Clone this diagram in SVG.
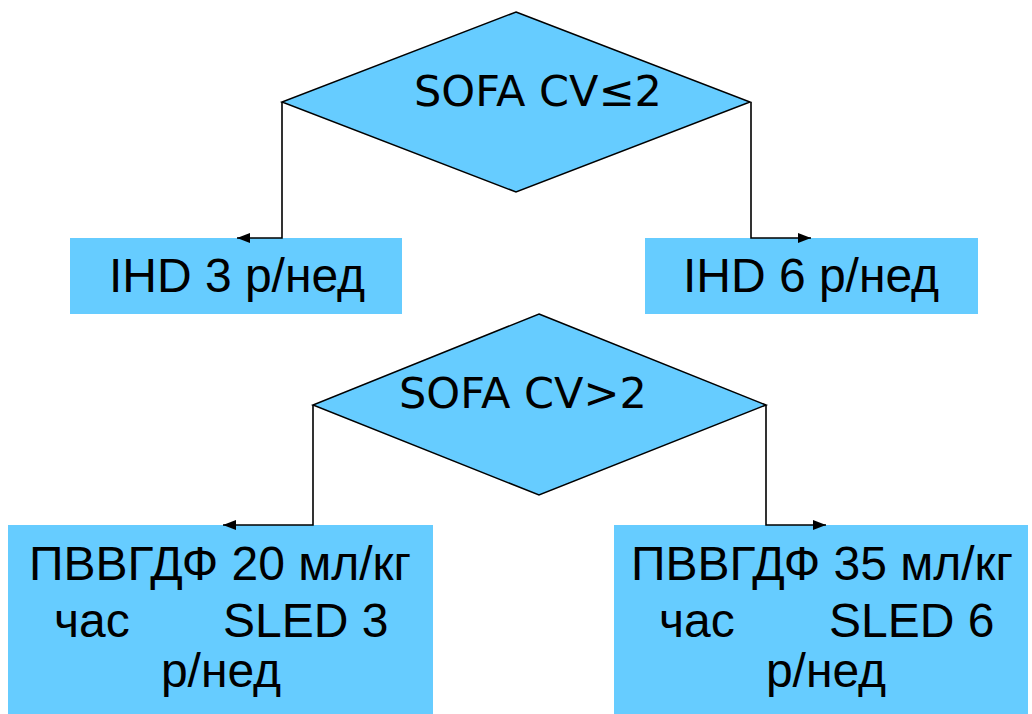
<svg xmlns="http://www.w3.org/2000/svg" width="1032" height="714" viewBox="0 0 1032 714">
  <defs>
    <style>
      .dec { fill: #66CCFF; stroke: #000; stroke-width: 1.5; stroke-linejoin: miter; }
      .box { fill: #66CCFF; stroke: none; }
      .dtxt { font-family: "DejaVu Sans", sans-serif; font-size: 43px; fill: #000; text-anchor: middle; }
      .btxt { font-family: "Liberation Sans", Arial, sans-serif; font-size: 48px; fill: #000; }
      .mid { text-anchor: middle; }
      .link { fill: none; stroke: #000; stroke-width: 1.6; marker-end: url(#arrow); }
    </style>
    <marker id="arrow" markerUnits="userSpaceOnUse" markerWidth="14" markerHeight="10" refX="13" refY="5" orient="auto">
      <path d="M0,0 L13,5 L0,10 Z" fill="#000"/>
    </marker>
  </defs>
  <rect width="1032" height="714" fill="#fff"/>

  <!-- first decision -->
  <g id="decision-cv-le2">
    <polygon class="dec" points="516,12 750,102 516,192 282,102"/>
    <text class="dtxt" x="538" y="106">SOFA CV≤2</text>
  </g>

  <g id="ihd-3">
    <rect class="box" x="70" y="238" width="332" height="76"/>
    <text class="btxt mid" x="237" y="292">IHD 3 р/нед</text>
  </g>

  <g id="ihd-6">
    <rect class="box" x="645" y="238" width="333" height="76"/>
    <text class="btxt mid" x="811" y="292">IHD 6 р/нед</text>
  </g>

  <!-- second decision -->
  <g id="decision-cv-gt2">
    <polygon class="dec" points="539,314 766,405 539,495 313,405"/>
    <text class="dtxt" x="523" y="408">SOFA CV&gt;2</text>
  </g>

  <g id="cvvhdf-20">
    <rect class="box" x="8" y="525" width="425" height="189"/>
    <text class="btxt mid" x="220" y="580">ПВВГДФ 20 мл/кг</text>
    <text class="btxt" x="54" y="637">час</text>
    <text class="btxt" x="223" y="637">SLED 3</text>
    <text class="btxt mid" x="221" y="687">р/нед</text>
  </g>

  <g id="cvvhdf-35">
    <rect class="box" x="614" y="525" width="414" height="189"/>
    <text class="btxt mid" x="822" y="580">ПВВГДФ 35 мл/кг</text>
    <text class="btxt" x="659" y="637">час</text>
    <text class="btxt" x="829" y="637">SLED 6</text>
    <text class="btxt mid" x="826" y="687">р/нед</text>
  </g>

  <g id="connectors">
    <polyline class="link" points="282,102 282,238 237,238"/>
    <polyline class="link" points="751,102 751,238 811,238"/>
    <polyline class="link" points="313,405 313,525 223,525"/>
    <polyline class="link" points="766,405 766,525 826,525"/>
  </g>
</svg>
